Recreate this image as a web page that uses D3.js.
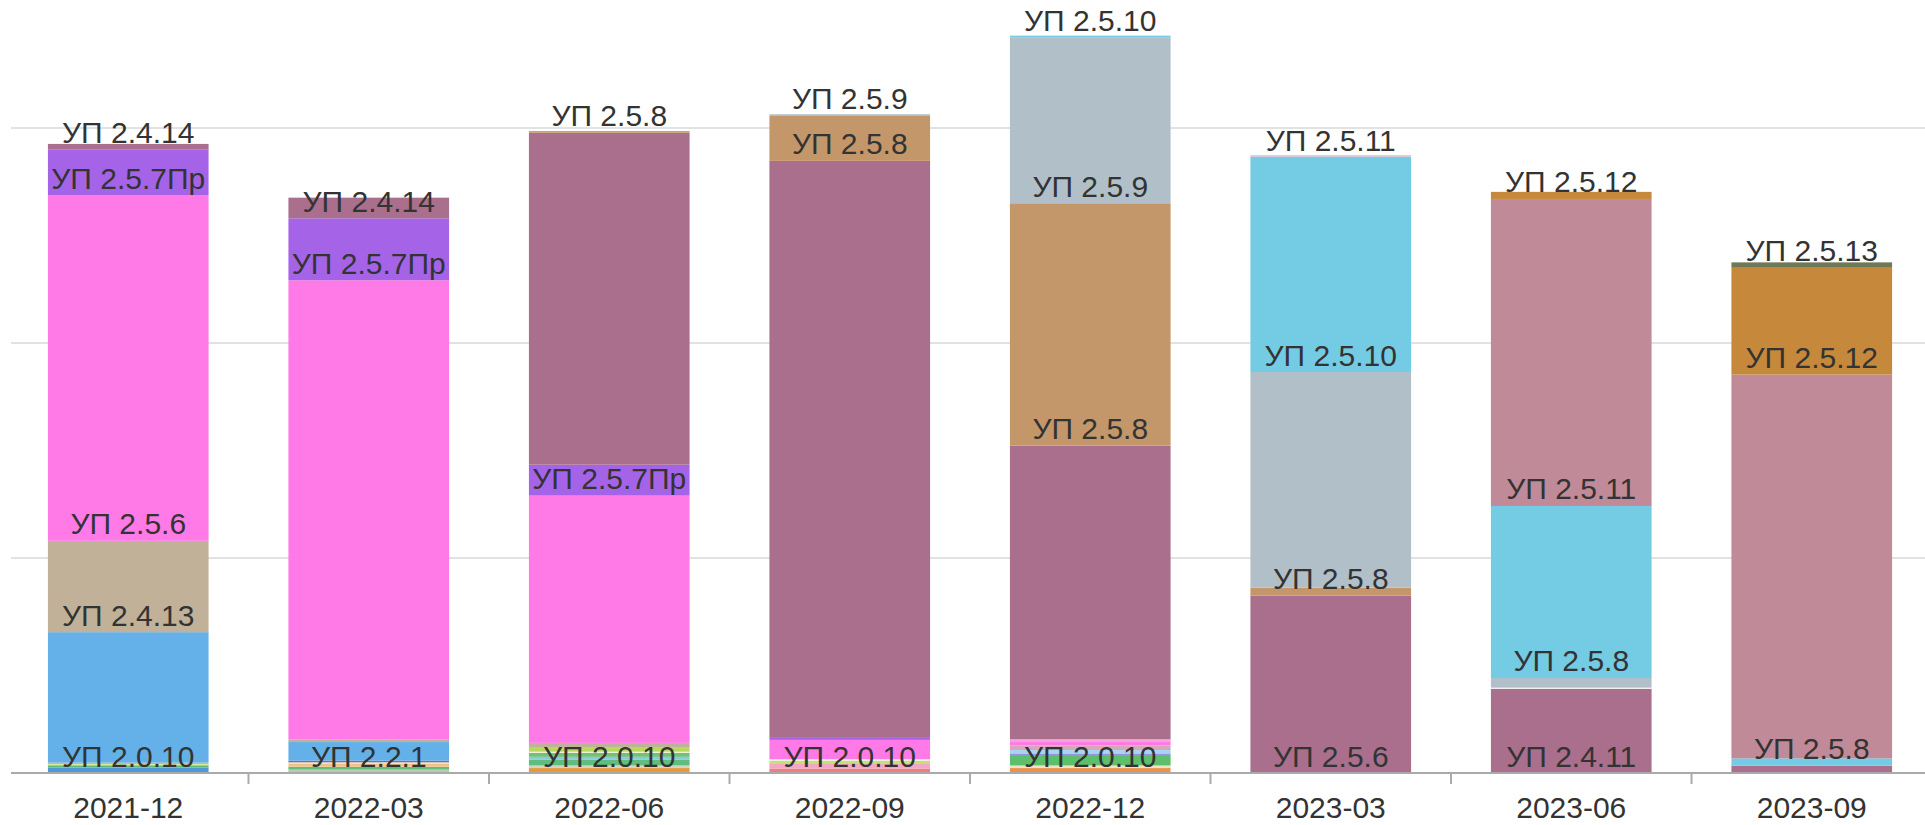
<!DOCTYPE html>
<html><head><meta charset="utf-8">
<script src="https://cdn.jsdelivr.net/npm/d3@7"></script>
<style>
html,body{margin:0;padding:0;background:#fff;overflow:hidden;}
svg{display:block;}
</style></head>
<body>
<svg id="chart" width="1925" height="825"></svg>
<script>
// ---------- data ----------
const categories = ["2021-12","2022-03","2022-06","2022-09","2022-12","2023-03","2023-06","2023-09"];
const gridValues = [100, 200, 300];

// segment values per category, bottom -> top
const segValues = [
  [2.5, 1.1, 0.6, 0.6, 60.7, 42.5, 160.6, 21.3, 2.7],
  [1.6, 1.3, 1.5, 0.6, 0.7, 8.7, 1.3, 213.5, 28.8, 9.6],
  [2.3, 1.2, 2.6, 1.4, 1.9, 0.5, 2.2, 1.9, 115.0, 14.4, 154.4, 0.75],
  [2.1, 2.1, 1.4, 0.8, 9.0, 1.3, 268.0, 20.9, 0.8],
  [2.3, 1.2, 4.4, 1.2, 1.6, 2.1, 1.6, 1.3, 136.6, 112.7, 77.2, 0.75],
  [82.5, 3.7, 100.3, 100.0, 0.9],
  [39.1, 0.6, 4.5, 80.0, 142.8, 3.3],
  [3.4, 3.4, 178.5, 49.7, 2.5]
];
// labels shown on segments ("" = no label)
const segLabels = [
  ["УП 2.0.10","","","","","УП 2.4.13","УП 2.5.6","УП 2.5.7Пр","УП 2.4.14"],
  ["УП 2.2.1","","","","","","","","УП 2.5.7Пр","УП 2.4.14"],
  ["УП 2.0.10","","","","","","","","","УП 2.5.7Пр","","УП 2.5.8"],
  ["УП 2.0.10","","","","","","","УП 2.5.8","УП 2.5.9"],
  ["УП 2.0.10","","","","","","","","","УП 2.5.8","УП 2.5.9","УП 2.5.10"],
  ["УП 2.5.6","УП 2.5.8","","УП 2.5.10","УП 2.5.11"],
  ["УП 2.4.11","","","УП 2.5.8","УП 2.5.11","УП 2.5.12"],
  ["","УП 2.5.8","","УП 2.5.12","УП 2.5.13"]
];
// ---------- styles ----------
const PINK="#ff7ae6", PURPLE="#a564e8", MAUVE="#a96f8d", BEIGE="#c0b198", BLUE="#63b1e8",
      TAN="#c4976a", GRAY="#b1bfc8", CYAN="#74cbe4", ROSE="#c08a98", ORANGE="#c6883a", OLIVE="#6e7a57";
const segColors = [
  ["#4f9ad6","#5dbb7a","#dce89a","#e8a6a0", BLUE, BEIGE, PINK, PURPLE, MAUVE],
  ["#b7c9b0","#5dbf7a","#f0c488","#ece4a8","#8a5cc8", BLUE, BEIGE, PINK, PURPLE, MAUVE],
  ["#e59a3c","#d4d4c4","#5dbf7a","#8ec8e8","#72c272","#f2f2d6","#b8d860", BEIGE, PINK, PURPLE, MAUVE, TAN],
  ["#ef7f7f","#f4a6c8","#c8e070","#e4f2d6", PINK, PURPLE, MAUVE, TAN, GRAY],
  ["#e8944c","#f0e2c4","#5dbf6a","#9494e0","#a6d4f2","#d8a8b8", PINK, "#f4a2da", MAUVE, TAN, GRAY, CYAN],
  [MAUVE, TAN, GRAY, CYAN, "#d6cadb"],
  [MAUVE, "#eeeeee", GRAY, CYAN, ROSE, ORANGE],
  [MAUVE, CYAN, ROSE, ORANGE, OLIVE]
];
const FONT = "'Liberation Sans', Arial, sans-serif";

// ---------- chart ----------
const svg = d3.select("#chart");
const x = d3.scaleBand().domain(categories).range([8, 1932]).paddingInner(0.332).paddingOuter(0.166);
const y = d3.scaleLinear().domain([0, 300]).range([773, 128]);

// gridlines
svg.append("g").selectAll("line").data(gridValues).join("line")
  .attr("x1", 11).attr("x2", 1925)
  .attr("y1", d => y(d)).attr("y2", d => y(d))
  .attr("stroke", "#e2e2e2").attr("stroke-width", 2);

// bars
const barLayer = svg.append("g");
const labelLayer = svg.append("g");
categories.forEach((cat, i) => {
  const vals = segValues[i];
  const tops = Array.from(d3.cumsum(vals));
  const segs = vals.map((v, j) => ({v, y0: tops[j] - v, y1: tops[j], color: segColors[i][j], label: segLabels[i][j]}));
  barLayer.append("g").selectAll("rect").data(segs).join("rect")
    .attr("x", x(cat)).attr("width", x.bandwidth())
    .attr("y", d => y(d.y1)).attr("height", d => y(d.y0) - y(d.y1))
    .attr("fill", d => d.color);
  labelLayer.append("g").selectAll("text").data(segs.filter(d => d.label)).join("text")
    .attr("x", x(cat) + x.bandwidth() / 2)
    .attr("y", d => y(d.y0) - 6.5)
    .attr("text-anchor", "middle")
    .attr("font-family", FONT).attr("font-size", 30).attr("fill", "#333")
    .text(d => d.label);
});

// x axis
const axisY = y(0);
svg.append("line").attr("x1", 11).attr("x2", 1925).attr("y1", axisY).attr("y2", axisY)
  .attr("stroke", "#aaa").attr("stroke-width", 2);
const boundaries = categories.slice(1).map(c => x(c) - x.step() * x.paddingInner() / 2);
svg.append("g").selectAll("line").data(boundaries).join("line")
  .attr("x1", d => d).attr("x2", d => d).attr("y1", axisY).attr("y2", axisY + 11)
  .attr("stroke", "#aaa").attr("stroke-width", 2);
const xAxis = svg.append("g").attr("transform", `translate(0,${axisY})`)
  .call(d3.axisBottom(x).tickSize(0).tickPadding(24));
xAxis.select(".domain").remove();
xAxis.selectAll("text").attr("font-family", FONT).attr("font-size", 30).attr("fill", "#333");
</script>
</body></html>
